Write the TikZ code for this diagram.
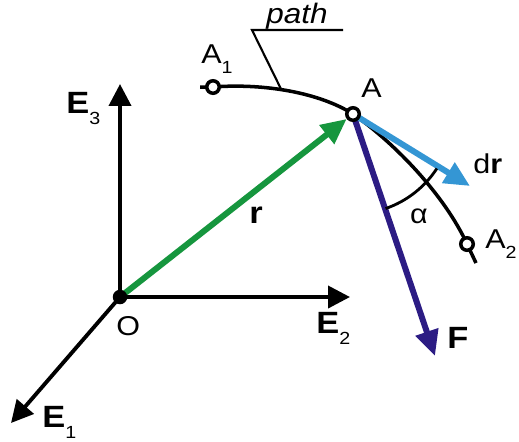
\documentclass[tikz,border=0pt]{standalone}
\usepackage{fontspec}
\setmainfont{Liberation Sans}[FakeStretch=1.12]
\usetikzlibrary{arrows.meta}
\definecolor{rgreen}{RGB}{22,150,62}
\definecolor{drblue}{RGB}{52,150,212}
\definecolor{Findigo}{RGB}{44,28,132}
\newcommand{\sbs}[1]{\raisebox{-0.38em}{\mdseries\fontsize{10}{11}\selectfont #1}}
\pgfdeclarelayer{background}
\pgfsetlayers{background,main}
\begin{document}
\begin{tikzpicture}[x=0.02cm,y=-0.02cm,
  lab/.style={font=\fontsize{15.5}{17}\selectfont, inner sep=0pt, anchor=base west},
  elab/.style={font=\fontsize{17.5}{19}\selectfont\bfseries, inner sep=0pt, anchor=base west},
  axis/.style={line width=2.2pt, -{Triangle[length=12.5pt,width=12.5pt]}},
  vec/.style={line width=3.4pt, -{Triangle[length=14.5pt,width=13pt]}},
  curve/.style={line width=2pt},
  thinline/.style={line width=1.2pt},
  opencirc/.style={circle, draw, fill=white, line width=2pt, minimum size=0.25cm, inner sep=0pt},
  dot/.style={circle, fill=black, minimum size=0.29cm, inner sep=0pt}
]
\useasboundingbox (0,0) rectangle (519,441);
% points
\node[dot] (O) at (120,297) {};
\node[opencirc] (A) at (353,114) {};
\node[opencirc] (A1) at (213,87) {};
\node[opencirc] (A2) at (467,244) {};
\coordinate (e3tip) at (120,84);
\coordinate (e2tip) at (350,297);
\coordinate (e1tip) at (11,423);
\coordinate (Ftip) at (435,356);
\coordinate (drtip) at (470,186);
\coordinate (a1start) at (200,87);
\coordinate (a2end) at (476,263);
\coordinate (onpath) at (281,89);
\coordinate (lead) at (252,30);
\coordinate (ulend) at (343,30);
% labels
\node[lab] (lA1) at (201,63) {A\sbs{1}};
\node[lab] (lA) at (361,97) {A};
\node[lab] (lA2) at (485,248) {A\sbs{2}};
\node[lab] (ldr) at (473,173) {d\textbf{r}};
\node[lab, anchor=center] (lal) at (419,216) {α};
\node[elab] (lF) at (447,348) {F};
\node[elab] (lr) at (249,223) {r};
\node[elab] (lE3) at (66,113) {E\sbs{3}};
\node[elab] (lE2) at (316,333) {E\sbs{2}};
\node[elab] (lE1) at (42,427) {E\sbs{1}};
\node[lab] (lO) at (116,335) {O};
\node[lab, font=\fontsize{16}{18}\selectfont\itshape] (lpath) at (266,23) {path};
\begin{pgfonlayer}{background}
% axes
\draw[axis] (O.center) -- (e3tip);
\draw[axis] (O.center) -- (e2tip);
\draw[axis] (O.center) -- (e1tip);
% path curve
\draw[curve] (a1start) -- (A1.center) .. controls (265,83) and (320,93) .. (A.center)
  .. controls (396,144) and (445,196) .. (A2.center) -- (a2end);
% leader
\draw[thinline] (ulend) -- (lead) -- (onpath);
% vectors
\draw[vec, rgreen] (O.center) -- (A);
\draw[vec, Findigo] (A.center) -- (Ftip);
\draw[vec, drblue] (A.center) -- (drtip);
% angle arc
\draw[curve, line width=1.6pt] (A.center) ++(71:100) arc[start angle=71, end angle=33, radius=100];
\end{pgfonlayer}
\end{tikzpicture}
\end{document}
